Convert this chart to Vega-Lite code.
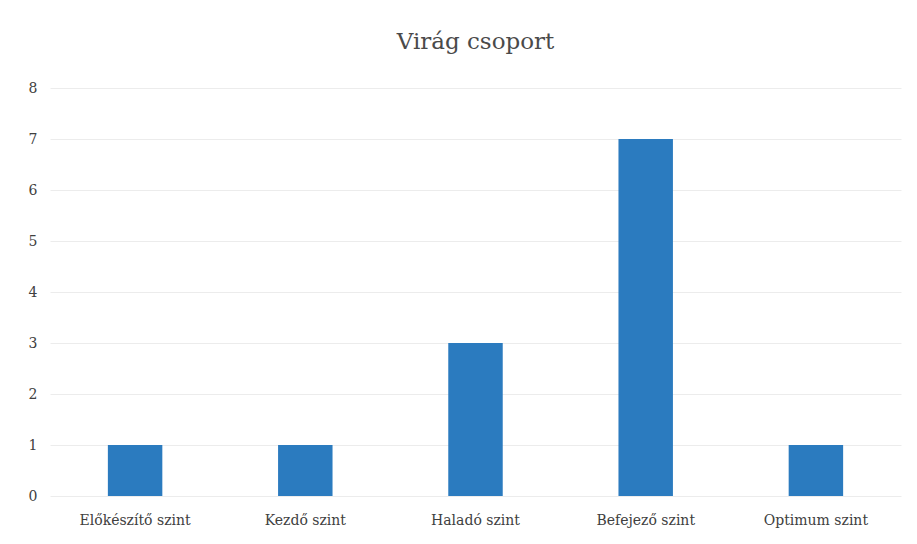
{
  "$schema": "https://vega.github.io/schema/vega-lite/v6.json",
  "width": 851,
  "height": 408,
  "autosize": {"type": "none"},
  "padding": {"left": 50, "top": 88, "right": 16, "bottom": 48},
  "background": "white",
  "title": {
    "text": "Virág csoport",
    "font": "DejaVu Serif",
    "fontSize": 23,
    "fontWeight": "normal",
    "color": "#4a4a4a",
    "offset": 27,
    "anchor": "middle"
  },
  "data": {
    "values": [
      {"szint": "Előkészítő szint", "db": 1},
      {"szint": "Kezdő szint", "db": 1},
      {"szint": "Haladó szint", "db": 3},
      {"szint": "Befejező szint", "db": 7},
      {"szint": "Optimum szint", "db": 1}
    ]
  },
  "mark": {"type": "bar", "color": "#2b7bbf"},
  "encoding": {
    "x": {
      "field": "szint",
      "type": "nominal",
      "sort": null,
      "scale": {"paddingInner": 0.68, "paddingOuter": 0.34},
      "axis": {
        "title": null,
        "labelAngle": 0,
        "labelFont": "DejaVu Serif",
        "labelFontSize": 14,
        "labelFontWeight": "normal",
        "labelColor": "#404040",
        "labelPadding": 17,
        "domain": false,
        "ticks": false
      }
    },
    "y": {
      "field": "db",
      "type": "quantitative",
      "scale": {"domain": [0, 8]},
      "axis": {
        "title": null,
        "values": [0, 1, 2, 3, 4, 5, 6, 7, 8],
        "labelOverlap": false,
        "labelFont": "DejaVu Serif",
        "labelFontSize": 14,
        "labelFontWeight": "normal",
        "labelColor": "#404040",
        "labelPadding": 22,
        "labelAlign": "left",
        "domain": false,
        "ticks": false,
        "grid": true,
        "gridColor": "#ececec",
        "gridWidth": 1
      }
    }
  },
  "config": {"view": {"stroke": null}}
}
